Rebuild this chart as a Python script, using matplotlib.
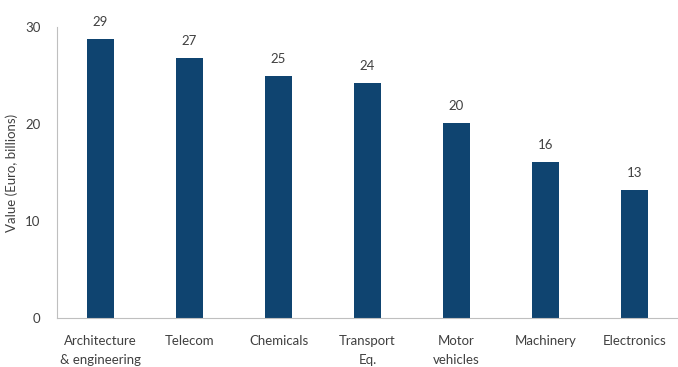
import matplotlib.pyplot as plt

# Data
categories = ["Architecture\n& engineering", "Telecom", "Chemicals", "Transport\nEq.",
              "Motor\nvehicles", "Machinery", "Electronics"]
values = [28.8, 26.8, 25.0, 24.2, 20.1, 16.1, 13.2]
labels = ["29", "27", "25", "24", "20", "16", "13"]

plt.rcParams['font.family'] = ['Lato', 'DejaVu Sans']
text_color = "#404040"

fig = plt.figure(figsize=(6.78, 3.67), dpi=100)
ax = fig.add_axes([0.084, 0.133, 0.916, 0.793])

x = range(len(categories))
bars = ax.bar(x, values, width=0.31, color="#0F4470")

for b, lab in zip(bars, labels):
    ax.annotate(lab, (b.get_x() + b.get_width() / 2, b.get_height()),
                xytext=(0, 8), textcoords="offset points",
                ha="center", va="bottom", fontsize=9.5, color=text_color)

ax.set_xlim(-0.49, len(categories) - 0.51)
ax.set_ylim(0, 30)
ax.set_yticks([0, 10, 20, 30])
ax.set_xticks(list(x))
ax.set_xticklabels(categories, fontsize=9.5, color=text_color, linespacing=1.75)
ax.tick_params(axis="y", labelsize=9.5, labelcolor=text_color, length=0, pad=12)
ax.tick_params(axis="x", length=0, pad=12)
ax.set_ylabel("Value (Euro, billions)", fontsize=9.5, color=text_color, labelpad=5)

for s in ["top", "right"]:
    ax.spines[s].set_visible(False)
ax.spines["left"].set_color("#BFBFBF")
ax.spines["bottom"].set_color("#BFBFBF")

fig.savefig("out.png", dpi=100)
